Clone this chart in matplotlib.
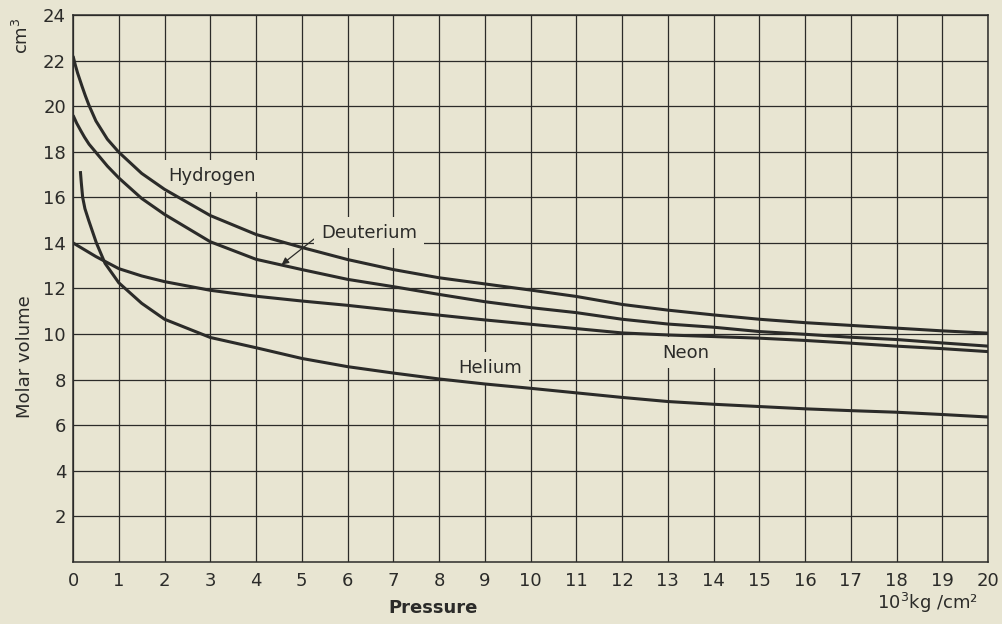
import matplotlib
matplotlib.use("Agg")
import matplotlib.pyplot as plt

# Werte (Druck in 10^3 kg/cm^2, Molvolumen in cm^3)
hydrogen_p = [0, 0.05, 0.1, 0.2, 0.27, 0.35, 0.5, 0.75, 1, 1.5, 2, 3, 4, 5,
              6, 7, 8, 9, 10, 11, 12, 13, 14, 15, 16, 17, 18, 19, 20]
hydrogen = [22.2, 21.8, 21.45, 20.85, 20.45, 20.03, 19.35, 18.55, 17.98,
            17.05, 16.35, 15.2, 14.37, 13.8, 13.27, 12.83, 12.47, 12.2, 11.93,
            11.65, 11.3, 11.05, 10.84, 10.65, 10.5, 10.38, 10.26, 10.14, 10.04]

deuterium_p = [0, 0.08, 0.17, 0.25, 0.35, 0.5, 0.75, 1, 1.5, 2, 3, 4, 5, 6,
               7, 8, 9, 10, 11, 12, 13, 14, 15, 16, 17, 18, 19, 20]
deuterium = [19.6, 19.25, 18.92, 18.64, 18.33, 17.97, 17.37, 16.85, 15.95,
             15.25, 14.05, 13.28, 12.83, 12.4, 12.08, 11.74, 11.42, 11.16,
             10.94, 10.65, 10.44, 10.3, 10.11, 9.99, 9.86, 9.76, 9.61, 9.47]

neon_p = [0, 0.5, 1, 1.5, 2, 3, 4, 5, 6, 7, 8, 9, 10, 11, 12, 13, 14, 15,
          16, 17, 18, 19, 20]
neon = [14.0, 13.4, 12.87, 12.55, 12.3, 11.92, 11.66, 11.45, 11.26, 11.04,
        10.83, 10.62, 10.43, 10.24, 10.05, 9.96, 9.89, 9.82, 9.72, 9.6, 9.47,
        9.36, 9.23]

helium_p = [0.16, 0.18, 0.21, 0.26, 0.34, 0.51, 0.7, 1, 1.5, 2, 3, 4, 5, 6,
            7, 8, 9, 10, 11, 12, 13, 14, 15, 16, 17, 18, 19, 20]
helium = [17.15, 16.65, 16.0, 15.5, 15.0, 14.0, 13.1, 12.25, 11.35, 10.65,
          9.85, 9.4, 8.93, 8.57, 8.29, 8.03, 7.81, 7.62, 7.42, 7.22, 7.04,
          6.92, 6.82, 6.72, 6.64, 6.57, 6.47, 6.36]

x_ticks = list(range(0, 21))
y_ticks = list(range(2, 25, 2))

paper = "#e8e5d2"
ink = "#2b2b29"

plt.rcParams['font.family'] = ['DejaVu Sans']

fig = plt.figure(figsize=(10.02, 6.24), dpi=100)
fig.patch.set_facecolor(paper)
ax = fig.add_axes([0.0729, 0.0994, 0.9132, 0.8766])
ax.set_facecolor(paper)

for xs, ys in [(hydrogen_p, hydrogen), (deuterium_p, deuterium),
               (neon_p, neon), (helium_p, helium)]:
    ax.plot(xs, ys, color=ink, lw=2.2, solid_capstyle='butt',
            solid_joinstyle='round', zorder=3)

ax.set_xlim(0, 20)
ax.set_ylim(0, 24)
ax.set_xticks(x_ticks)
ax.set_yticks(y_ticks)
ax.tick_params(length=0, labelsize=13, colors=ink)
ax.tick_params(axis='x', pad=7)
ax.tick_params(axis='y', pad=5)
ax.grid(True, color=ink, lw=0.9)
ax.set_axisbelow(True)
for sp in ax.spines.values():
    sp.set_color(ink)
    sp.set_linewidth(1.1)

# Beschriftungen unterbrechen das Gitter, aber nicht die Kurven
box = dict(facecolor=paper, edgecolor='none', pad=5)
ax.text(2.07, 16.95, "Hydrogen", fontsize=13, color=ink, ha='left',
        va='center', bbox=box, zorder=2)
ax.annotate("Deuterium", xy=(4.56, 13.05), xytext=(5.42, 14.45),
            fontsize=13, color=ink, ha='left', va='center', bbox=box,
            zorder=2,
            arrowprops=dict(arrowstyle='-|>', color=ink, lw=0.9,
                            mutation_scale=10, shrinkA=0, shrinkB=0,
                            relpos=(0, 0.45)))
ax.text(12.87, 9.19, "Neon", fontsize=13, color=ink, ha='left',
        va='center', bbox=box, zorder=2)
ax.text(8.42, 8.5, "Helium", fontsize=13, color=ink, ha='left',
        va='center', bbox=box, zorder=2)

fig.text(25 / 1002, 1 - 357 / 624, "Molar volume", rotation=90, fontsize=13,
         color=ink, ha='center', va='center')
fig.text(22 / 1002, 1 - 36 / 624, "cm$^3$", rotation=90, fontsize=13,
         color=ink, ha='center', va='center')
fig.text(433 / 1002, 1 - 608 / 624, "Pressure", fontsize=13,
         fontweight='bold', color=ink, ha='center', va='center')
fig.text(927 / 1002, 1 - 603 / 624, "10$^3$kg /cm²", fontsize=13,
         color=ink, ha='center', va='center')

fig.savefig("out.png", dpi=100, facecolor=paper)
